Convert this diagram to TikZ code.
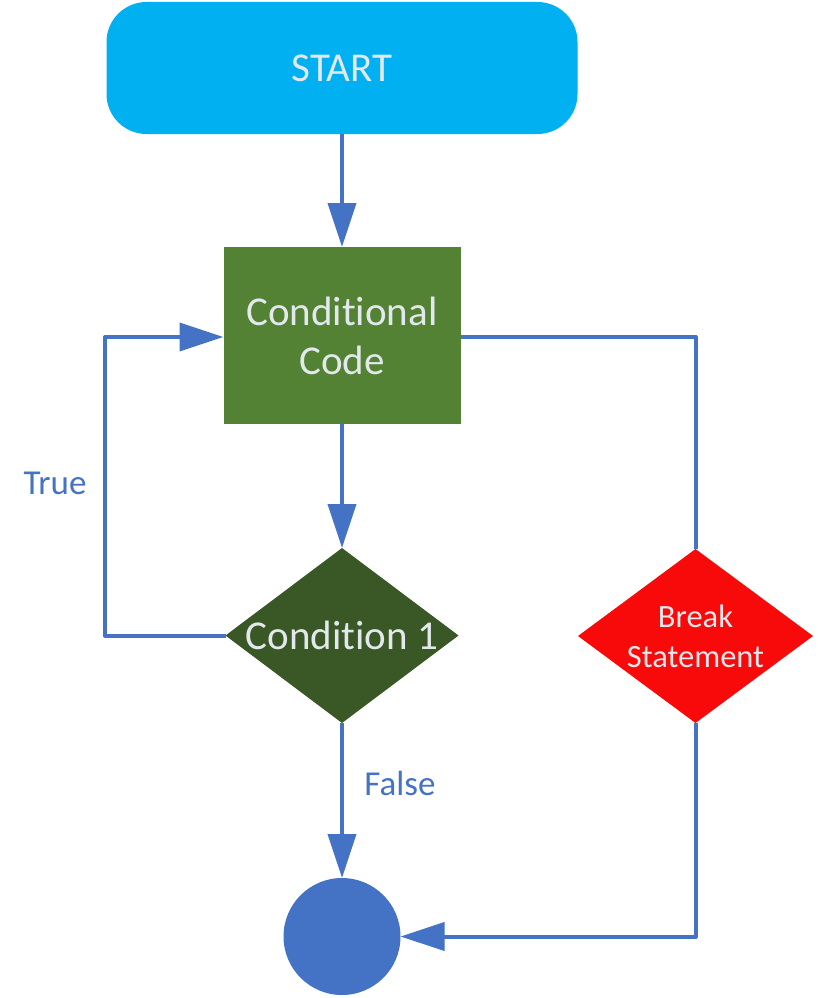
\documentclass[tikz,border=0pt]{standalone}
\usepackage{fontspec}
\setmainfont{Carlito}[Ligatures=NoCommon]
\usetikzlibrary{arrows.meta,shapes.geometric}
\definecolor{lineblue}{HTML}{4472C4}
\definecolor{startblue}{HTML}{00B0F0}
\definecolor{codegreen}{HTML}{548235}
\definecolor{condgreen}{HTML}{3A5826}
\definecolor{breakred}{HTML}{F80A0A}
\definecolor{lighttext}{HTML}{E2E8EC}
\tikzset{
  conn/.style={draw=lineblue, line width=4pt, line join=round},
  arr/.style={conn, -{Triangle[length=44pt,width=28pt]}},
  startbox/.style={rectangle, rounded corners=40pt, fill=startblue, minimum width=471pt, minimum height=132pt, inner sep=0pt, outer sep=0pt, text=lighttext, font=\fontsize{41}{49}\selectfont},
  codebox/.style={rectangle, fill=codegreen, minimum width=237pt, minimum height=177pt, inner sep=0pt, outer sep=0pt, text=lighttext, align=center, font=\fontsize{41}{49}\selectfont},
  decide/.style={diamond, inner sep=0pt, outer sep=0pt},
  dtext/.style={text=lighttext, align=center, inner sep=0pt},
  endcircle/.style={circle, fill=lineblue, minimum size=117pt, inner sep=0pt, outer sep=0pt},
  lbl/.style={text=lineblue, font=\fontsize{35}{42}\selectfont, inner sep=0pt}
}
\begin{document}
\begin{tikzpicture}[x=1pt,y=-1pt]
\useasboundingbox (0,0) rectangle (817,998);
\node[startbox] (start) at (342,68) {START};
\node[codebox] (code) at (342,335.5) {Conditional\\Code};
\node[decide, fill=condgreen, minimum width=233pt, minimum height=175pt] (c1) at (342,635.5) {};
\node[dtext, font=\fontsize{41}{49}\selectfont] (c1t) at (c1) {Condition 1};
\node[decide, fill=breakred, minimum width=235pt, minimum height=174pt] (brk) at (695.5,636) {};
\node[dtext, font=\fontsize{32.5}{40}\selectfont] (brkt) at (brk) {Break\\Statement};
\node[endcircle] (end) at (342,936.5) {};
\node[lbl] (true) at (55,483) {True};
\node[lbl] (false) at (400,783) {False};
\coordinate (lt) at (105,337);
\coordinate (cw) at (code.west |- lt);
\coordinate (ce) at (code.east |- lt);
\draw[arr] (start.south) -- (code.north);
\draw[arr] (code.south) -- (c1.north);
\draw[arr] (c1.west) -| (lt) -- (cw);
\draw[conn] (ce) -| (brk.north);
\draw[arr] (c1.south) -- (end.north);
\draw[arr] (brk.south) |- (end.east);
\end{tikzpicture}
\end{document}
